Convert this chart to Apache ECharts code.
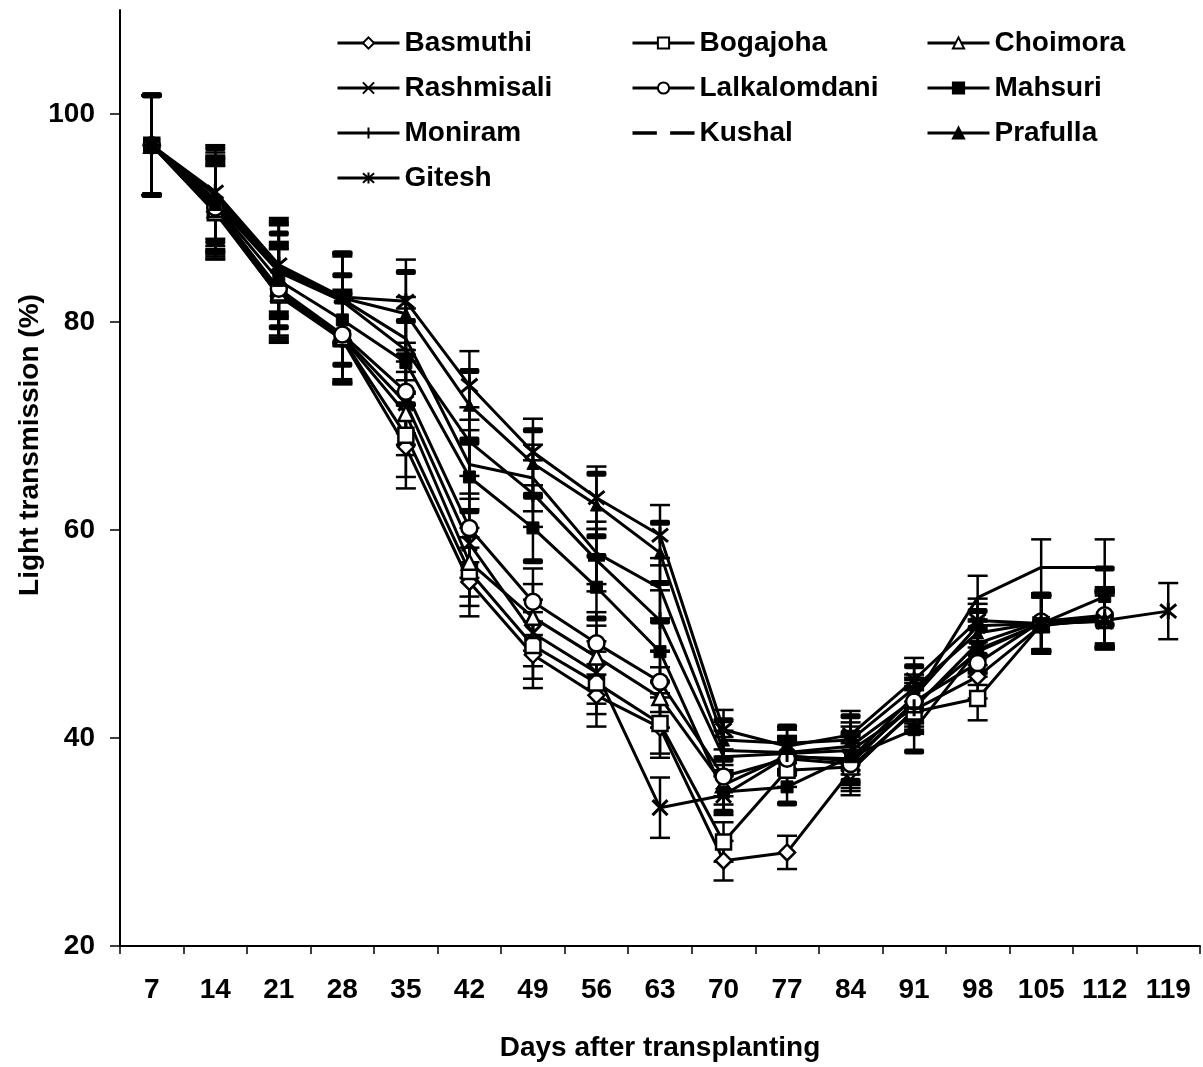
<!DOCTYPE html>
<html>
<head>
<meta charset="utf-8">
<script src="https://cdn.jsdelivr.net/npm/echarts@6/dist/echarts.min.js"></script>
<style>
  html, body { margin: 0; padding: 0; background: #fff; }
  #chart { width: 1203px; height: 1067px; }
</style>
</head>
<body>
<div id="chart"></div>
<script>
// Days after transplanting (category axis)
const days = ['7','14','21','28','35','42','49','56','63','70','77','84','91','98','105','112','119'];

// Light transmission (%) per variety
const basmuthi     = [97.0, 90.6, 82.5, 78.3, 68.0, 55.0, 48.0, 44.1, 41.0, 28.2, 29.0, 36.8, 42.7, 45.9, 50.8, 51.5, null];
const bogajoha     = [97.0, 90.5, 82.6, 78.4, 69.1, 56.0, 48.9, 45.3, 41.4, 30.0, 36.9, 37.2, 42.5, 43.8, 50.9, 51.3, null];
const choimora     = [97.0, 90.8, 82.8, 78.5, 71.2, 56.9, 51.6, 47.8, 43.9, 35.5, 38.3, 37.8, 43.2, 48.3, 51.0, 51.4, null];
const rashmisali   = [97.0, 91.2, 83.0, 78.6, 72.2, 58.7, 50.1, 46.3, 33.3, 34.5, 38.2, 38.0, 44.0, 50.8, 51.0, 51.2, null];
const lalkalomdani = [97.0, 91.0, 83.2, 78.8, 73.3, 60.2, 53.1, 49.1, 45.4, 36.3, 38.0, 37.5, 43.5, 47.2, 51.2, 51.8, null];
const mahsuri      = [97.0, 91.3, 84.0, 80.2, 76.1, 65.1, 60.2, 54.5, 48.3, 34.8, 35.3, 38.2, 40.8, 48.5, 51.0, 53.6, null];
const moniram      = [97.0, 91.5, 84.8, 82.0, 77.3, 68.5, 63.5, 57.1, 51.3, 38.2, 38.5, 38.8, 42.9, 49.1, 51.2, 51.6, null];
const kushal       = [97.0, 91.8, 85.0, 82.2, 78.4, 66.3, 65.0, 57.8, 54.4, 38.8, 38.6, 39.2, 43.7, 53.5, 56.4, 56.4, null];
const prafulla     = [97.0, 92.2, 85.2, 82.3, 80.8, 72.0, 66.4, 62.4, 57.8, 39.8, 39.5, 39.8, 44.8, 50.1, 51.1, 51.5, null];
const gitesh       = [97.0, 92.5, 85.5, 82.4, 82.0, 73.9, 67.5, 63.1, 59.5, 40.8, 39.2, 40.3, 45.6, 51.3, 51.0, 51.3, 52.2];

// Standard error for each sampling day
const stdError = [4.8, 4.5, 4.5, 4.3, 4.0, 3.3, 3.2, 3.0, 2.9, 1.9, 1.6, 2.3, 2.1, 2.1, 2.7, 2.7, 2.7];

// Y-axis tick labels
const yTicks = [20, 40, 60, 80, 100];

const FONT = '"Liberation Sans", Arial, sans-serif';

const SYM_X = 'path://M0 0L20 20M20 0L0 20';
const SYM_PLUS = 'path://M10 0L10 20M0 10L20 10';
const SYM_STAR = 'path://M0 0L20 20M20 0L0 20M10 -2L10 22';

const open = { color: '#fff', borderColor: '#000', borderWidth: 2.5 };
const filled = { color: '#000', borderColor: '#000', borderWidth: 1 };
const stroked = { color: 'transparent', borderColor: '#000', borderWidth: 3 };

const varieties = [
  { name: 'Basmuthi',     data: basmuthi,     symbol: 'diamond',  size: 16, style: open },
  { name: 'Bogajoha',     data: bogajoha,     symbol: 'rect',     size: 15, style: open },
  { name: 'Choimora',     data: choimora,     symbol: 'triangle', size: 15, style: open },
  { name: 'Rashmisali',   data: rashmisali,   symbol: SYM_X,      size: 15, style: stroked },
  { name: 'Lalkalomdani', data: lalkalomdani, symbol: 'circle',   size: 16, style: open },
  { name: 'Mahsuri',      data: mahsuri,      symbol: 'rect',     size: 12, style: filled, thickCap: true },
  { name: 'Moniram',      data: moniram,      symbol: SYM_PLUS,   size: 17, style: stroked },
  { name: 'Kushal',       data: kushal,       symbol: 'none',     size: 0,  style: { color: '#000' } },
  { name: 'Prafulla',     data: prafulla,     symbol: 'triangle', size: 12, style: filled, thickCap: true },
  { name: 'Gitesh',       data: gitesh,       symbol: SYM_STAR,   size: 16, style: stroked }
];

// Error-bar records: [dayIndex, low, high, thickCap]
const errorData = [];
varieties.forEach(function (v) {
  v.data.forEach(function (val, i) {
    if (val == null) return;
    errorData.push([i, val - stdError[i], val + stdError[i], v.thickCap ? 1 : 0]);
  });
});

function renderErrorBar(params, api) {
  const x = api.value(0);
  const lo = api.coord([x, api.value(1)]);
  const hi = api.coord([x, api.value(2)]);
  const thick = api.value(3) === 1;
  const half = 10;
  const stroke = { stroke: '#000', lineWidth: 2.5 };
  const children = [
    { type: 'line', shape: { x1: lo[0], y1: lo[1], x2: hi[0], y2: hi[1] }, style: stroke }
  ];
  [lo, hi].forEach(function (p) {
    if (thick) {
      children.push({ type: 'rect', shape: { x: p[0] - half, y: p[1] - 3, width: half * 2, height: 6, r: 2 }, style: { fill: '#000' } });
    } else {
      children.push({ type: 'line', shape: { x1: p[0] - half, y1: p[1], x2: p[0] + half, y2: p[1] }, style: stroke });
    }
  });
  return { type: 'group', children: children };
}

const series = [{
  type: 'custom',
  name: 'error',
  z: 1,
  silent: true,
  renderItem: renderErrorBar,
  encode: { x: 0, y: [1, 2] },
  data: errorData
}];

varieties.forEach(function (v) {
  series.push({
    type: 'line',
    name: v.name,
    data: v.data,
    z: 2,
    symbol: v.symbol,
    symbolSize: v.size,
    showAllSymbol: true,
    connectNulls: false,
    animation: false,
    lineStyle: { color: '#000', width: 3 },
    itemStyle: v.style,
    emphasis: { disabled: true }
  });
});

const legendText = { fontFamily: FONT, fontWeight: 'bold', fontSize: 28, color: '#000', lineHeight: 30 };
function legendCol(left, names) {
  return {
    orient: 'vertical',
    left: left,
    top: 28,
    padding: 0,
    itemGap: 15,
    itemWidth: 62,
    itemHeight: 14,
    selectedMode: false,
    textStyle: legendText,
    lineStyle: { width: 3, color: '#000' },
    data: names.map(function (n) {
      return n === 'Kushal'
        ? { name: n, icon: 'path://M0 0L22 0L22 3L0 3Z M34 0L56 0L56 3L34 3Z' }
        : { name: n };
    })
  };
}

const chart = echarts.init(document.getElementById('chart'), null, { renderer: 'canvas' });
chart.setOption({
  animation: false,
  backgroundColor: '#fff',
  grid: { left: 120, right: 3, top: 10, bottom: 121, containLabel: false },
  legend: [
    legendCol(336, ['Basmuthi', 'Rashmisali', 'Moniram', 'Gitesh']),
    legendCol(631, ['Bogajoha', 'Lalkalomdani', 'Kushal']),
    legendCol(926, ['Choimora', 'Mahsuri', 'Prafulla'])
  ],
  xAxis: {
    type: 'category',
    data: days,
    boundaryGap: true,
    name: 'Days after transplanting',
    nameLocation: 'middle',
    nameGap: 88,
    nameTextStyle: { fontFamily: FONT, fontWeight: 'bold', fontSize: 28, color: '#000' },
    axisLine: { lineStyle: { color: '#000', width: 2 } },
    axisTick: { show: true, length: 8, lineStyle: { color: '#000', width: 1.5 }, alignWithLabel: false },
    axisLabel: { margin: 30, interval: 0, fontFamily: FONT, fontWeight: 'bold', fontSize: 28, color: '#000' },
    splitLine: { show: false }
  },
  yAxis: {
    type: 'value',
    min: 20,
    max: 110,
    interval: 20,
    axisLine: { show: true, lineStyle: { color: '#000', width: 2 } },
    axisTick: { show: true, length: 10, lineStyle: { color: '#000', width: 1.5 }, customValues: yTicks },
    axisLabel: { margin: 25, fontFamily: FONT, fontWeight: 'bold', fontSize: 28, color: '#000', customValues: yTicks },
    splitLine: { show: false }
  },
  graphic: [{
    type: 'text',
    x: 30,
    y: 445,
    rotation: Math.PI / 2,
    style: {
      text: 'Light transmission (%)',
      font: 'bold 28px ' + FONT,
      fill: '#000',
      align: 'center',
      verticalAlign: 'middle'
    }
  }],
  series: series
});
</script>
</body>
</html>
